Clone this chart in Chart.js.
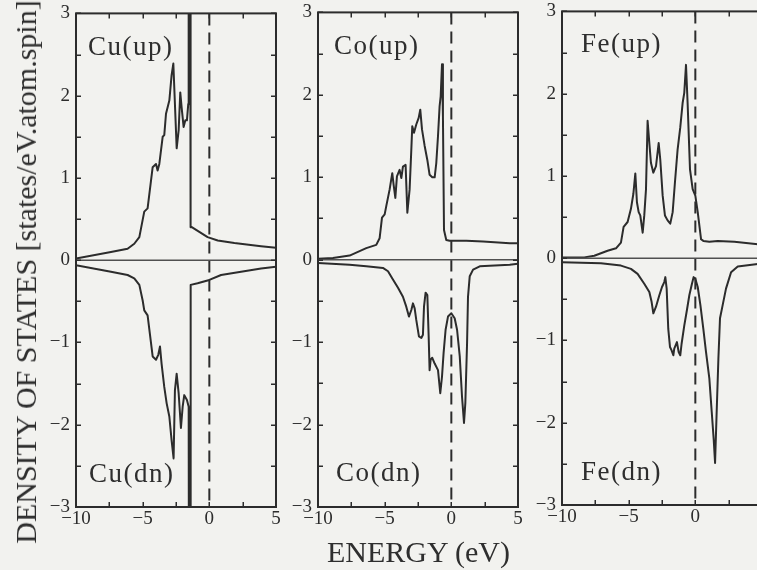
<!DOCTYPE html>
<html><head><meta charset="utf-8">
<script src="https://cdn.jsdelivr.net/npm/chart.js@4/dist/chart.umd.min.js"></script>
<style>
html,body{margin:0;padding:0;}
body{width:757px;height:570px;overflow:hidden;position:relative;background:#f2f2ef;font-family:"Liberation Serif","Times New Roman",serif;color:#2e2e2e;}
.wrap{position:absolute;}
.wrap canvas{display:block;}
.lbl{position:absolute;font-size:27px;line-height:27px;letter-spacing:1.5px;white-space:nowrap;}
#xt{position:absolute;left:327px;top:537px;font-size:30px;line-height:30px;white-space:nowrap;}
#yt{position:absolute;left:26px;top:272px;font-size:30px;line-height:30px;white-space:nowrap;transform:translate(-50%,-50%) rotate(-90deg);}
</style></head><body>
<div class="wrap" id="w0"><canvas id="c0"></canvas></div>
<div class="wrap" id="w1"><canvas id="c1"></canvas></div>
<div class="wrap" id="w2"><canvas id="c2"></canvas></div>
<div class="lbl" style="left:88px;top:33px">Cu(up)</div>
<div class="lbl" style="left:89px;top:460px">Cu(dn)</div>
<div class="lbl" style="left:334px;top:32px">Co(up)</div>
<div class="lbl" style="left:336px;top:459px">Co(dn)</div>
<div class="lbl" style="left:581px;top:30px">Fe(up)</div>
<div class="lbl" style="left:581px;top:458px">Fe(dn)</div>
<div id="xt">ENERGY (eV)</div>
<div id="yt">DENSITY OF STATES [states/eV.atom.spin]</div>
<script>
// ---- axis ticks ----
const energyTicks = [-10, -5, 0, 5];
const energyMarks = [-10, -7.5, -5, -2.5, 0, 2.5, 5];
const dosTicks = [-3, -2, -1, 0, 1, 2, 3];
const dosMarks = [-3, -2.5, -2, -1.5, -1, -0.5, 0, 0.5, 1, 1.5, 2, 2.5, 3];
const ENERGY_MIN = -10, ENERGY_MAX = 5, DOS_MIN = -3, DOS_MAX = 3, FERMI = 0;

// ---- Cu ----
const cuUpE = [-10,-7.38,-6.13,-5.63,-5.25,-5.0,-4.88,-4.63,-4.25,-4.0,-3.88,-3.75,-3.5,-3.38,-3.25,-3.0,-2.83,-2.7,-2.45,-2.3,-2.18,-2.08,-1.93,-1.8,-1.68,-1.58,-1.55,-1.45,-1.43,-1.38,-0.13,0.63,1.88,3.88,5];
const cuUpD = [0.02,0.10,0.14,0.20,0.28,0.49,0.59,0.63,1.13,1.17,1.09,1.17,1.50,1.52,1.78,1.94,2.25,2.39,1.36,1.58,2.04,1.86,1.62,1.70,1.70,1.90,5.0,5.0,0.40,0.41,0.28,0.24,0.21,0.17,0.15];
const cuDnE = [-10,-7.38,-6.13,-5.63,-5.25,-5.0,-4.88,-4.63,-4.25,-4.0,-3.83,-3.7,-3.58,-3.38,-3.2,-3.0,-2.83,-2.68,-2.58,-2.45,-2.3,-2.13,-2.0,-1.88,-1.68,-1.55,-1.52,-1.42,-1.4,-0.88,0,0.88,2.38,3.88,5];
const cuDnD = [-0.06,-0.14,-0.18,-0.22,-0.30,-0.49,-0.61,-0.67,-1.17,-1.21,-1.15,-1.05,-1.26,-1.54,-1.74,-1.90,-2.19,-2.41,-1.58,-1.38,-1.62,-2.04,-1.78,-1.64,-1.70,-1.78,-5.0,-5.0,-0.30,-0.28,-0.24,-0.18,-0.14,-0.10,-0.08];

// ---- Co ----
const coUpE = [-10,-8.88,-7.63,-6.38,-5.63,-5.38,-5.2,-5.0,-4.88,-4.63,-4.43,-4.33,-4.2,-4.08,-3.88,-3.75,-3.63,-3.43,-3.3,-3.13,-3.0,-2.93,-2.8,-2.63,-2.45,-2.33,-2.2,-2.0,-1.8,-1.63,-1.43,-1.25,-1.13,-1.0,-0.88,-0.8,-0.7,-0.63,-0.55,-0.38,-0.13,1.13,2.38,4.38,5];
const coUpD = [0.01,0.02,0.05,0.14,0.18,0.26,0.51,0.55,0.65,0.85,1.05,0.91,0.75,1.01,1.09,0.99,1.13,1.15,0.57,0.85,1.34,1.62,1.54,1.64,1.72,1.82,1.58,1.38,1.21,1.03,1.00,1.00,1.17,1.50,1.86,1.98,2.37,1.74,0.36,0.24,0.23,0.23,0.22,0.20,0.20];
const coDnE = [-10,-7.63,-6.38,-5.13,-4.75,-4.38,-4.0,-3.63,-3.38,-3.18,-3.0,-2.88,-2.75,-2.63,-2.43,-2.25,-2.13,-2.05,-1.93,-1.8,-1.7,-1.63,-1.55,-1.43,-1.25,-1.0,-0.83,-0.7,-0.58,-0.43,-0.25,0,0.25,0.43,0.63,0.8,0.95,1.05,1.18,1.25,1.38,1.63,2.13,4.38,5];
const coDnD = [-0.04,-0.06,-0.08,-0.10,-0.14,-0.24,-0.34,-0.45,-0.57,-0.69,-0.61,-0.53,-0.59,-0.73,-0.93,-0.95,-0.91,-0.57,-0.40,-0.43,-0.93,-1.34,-1.21,-1.19,-1.26,-1.34,-1.62,-1.42,-1.13,-0.85,-0.69,-0.65,-0.71,-0.85,-1.17,-1.66,-1.98,-1.74,-1.01,-0.45,-0.20,-0.12,-0.08,-0.06,-0.05];

// ---- Fe ----
const feUpE = [-10,-8.33,-7.58,-7.08,-6.58,-5.95,-5.58,-5.38,-5.08,-4.83,-4.65,-4.5,-4.38,-4.25,-4.13,-3.95,-3.83,-3.7,-3.58,-3.45,-3.33,-3.15,-2.95,-2.75,-2.63,-2.45,-2.28,-2.08,-1.88,-1.7,-1.53,-1.33,-1.13,-0.95,-0.83,-0.7,-0.58,-0.4,-0.2,0,0.18,0.43,0.6,1.05,1.68,2.93,4.68,5];
const feUpD = [0.01,0.01,0.03,0.06,0.09,0.12,0.19,0.38,0.44,0.60,0.78,1.03,0.68,0.56,0.52,0.31,0.52,0.84,1.67,1.40,1.16,1.04,1.12,1.40,1.20,0.76,0.52,0.46,0.42,0.56,0.92,1.32,1.59,1.89,2.01,2.35,1.89,1.08,0.84,0.76,0.56,0.23,0.21,0.20,0.21,0.20,0.17,0.17];
const feDnE = [-10,-7.08,-5.58,-4.83,-4.33,-3.83,-3.45,-3.28,-3.15,-2.95,-2.7,-2.5,-2.33,-2.25,-2.15,-2.03,-1.9,-1.78,-1.65,-1.58,-1.38,-1.25,-1.13,-1.03,-0.83,-0.63,-0.45,-0.28,-0.13,0,0.18,0.38,0.6,0.8,1.05,1.23,1.38,1.48,1.6,1.73,1.85,2.05,2.3,2.68,3.18,4.68,5];
const feDnD = [-0.05,-0.06,-0.09,-0.13,-0.19,-0.31,-0.41,-0.53,-0.67,-0.59,-0.45,-0.35,-0.29,-0.23,-0.37,-0.86,-1.08,-1.12,-1.18,-1.10,-1.02,-1.14,-1.18,-1.04,-0.82,-0.63,-0.45,-0.33,-0.23,-0.25,-0.35,-0.57,-0.86,-1.14,-1.46,-1.87,-2.21,-2.49,-1.87,-1.22,-0.73,-0.57,-0.37,-0.17,-0.10,-0.07,-0.07];

const INK = '#2c2c2c';
const FONT = {family: "'Liberation Serif', 'Times New Roman', serif", size: 19};
const fmt = v => (v < 0 ? '\u2212' + Math.abs(v) : String(v));
const pts = (xs, ys) => xs.map((x, i) => ({x, y: ys[i]}));

const framePlugin = {
  id: 'frame',
  afterDatasetsDraw(chart) {
    const {ctx, chartArea: a, scales: {x, y}} = chart;
    ctx.save();
    ctx.strokeStyle = INK;
    ctx.lineWidth = 1.5;
    const L = 5;
    ctx.beginPath();
    energyMarks.forEach(v => {
      const px = Math.round(x.getPixelForValue(v)) + 0.25;
      ctx.moveTo(px, a.bottom); ctx.lineTo(px, a.bottom - L);
      ctx.moveTo(px, a.top); ctx.lineTo(px, a.top + L);
    });
    dosMarks.forEach(v => {
      const py = Math.round(y.getPixelForValue(v)) + 0.25;
      ctx.moveTo(a.left, py); ctx.lineTo(a.left + L, py);
      ctx.moveTo(a.right, py); ctx.lineTo(a.right - L, py);
    });
    ctx.stroke();
    ctx.lineWidth = 2;
    ctx.strokeRect(a.left, a.top, a.width, a.height);
    ctx.restore();
  }
};

const PAD_L = 48, PAD_T = 14, PAD_R = 12, PAD_B = 32;

function panel(idx, box, upE, upD, dnE, dnD) {
  const cv = document.getElementById('c' + idx);
  const wrap = document.getElementById('w' + idx);
  const W = PAD_L + box.w + PAD_R, H = PAD_T + box.h + PAD_B;
  cv.width = W; cv.height = H;
  cv.style.width = W + 'px'; cv.style.height = H + 'px';
  wrap.style.left = (box.l - PAD_L) + 'px';
  wrap.style.top = (box.t - PAD_T) + 'px';
  const lineDs = (data, extra) => Object.assign({
    data, borderColor: INK, borderWidth: 2, pointRadius: 0, tension: 0,
    borderJoinStyle: 'round', borderCapStyle: 'butt', fill: false
  }, extra || {});
  new Chart(cv, {
    type: 'line',
    data: {datasets: [
      lineDs([{x: ENERGY_MIN, y: 0}, {x: ENERGY_MAX, y: 0}], {borderColor: '#505050', borderWidth: 1.5}),
      lineDs([{x: FERMI, y: DOS_MAX}, {x: FERMI, y: DOS_MIN}], {borderDash: [12, 7], borderWidth: 2}),
      lineDs(pts(upE, upD)),
      lineDs(pts(dnE, dnD))
    ]},
    options: {
      responsive: false, animation: false, devicePixelRatio: 1,
      layout: {padding: {left: 0, top: PAD_T, right: PAD_R, bottom: 0}},
      plugins: {legend: {display: false}, tooltip: {enabled: false}},
      scales: {
        x: {
          type: 'linear', position: 'bottom', min: ENERGY_MIN, max: ENERGY_MAX,
          afterBuildTicks: s => { s.ticks = energyTicks.map(v => ({value: v})); },
          afterFit: s => { s.height = PAD_B; },
          grid: {display: false, drawTicks: false},
          border: {display: false},
          ticks: {font: FONT, color: INK, padding: 1, autoSkip: false, maxRotation: 0, callback: fmt}
        },
        y: {
          type: 'linear', position: 'left', min: DOS_MIN, max: DOS_MAX,
          afterBuildTicks: s => { s.ticks = dosTicks.map(v => ({value: v})); },
          afterFit: s => { s.width = PAD_L; },
          grid: {display: false, drawTicks: false},
          border: {display: false},
          ticks: {font: FONT, color: INK, padding: 6, autoSkip: false, callback: fmt}
        }
      }
    },
    plugins: [framePlugin]
  });
}

panel(0, {l: 76, t: 10, w: 200, h: 497}, cuUpE, cuUpD, cuDnE, cuDnD);
panel(1, {l: 318, t: 9, w: 200, h: 498}, coUpE, coUpD, coDnE, coDnD);
panel(2, {l: 562, t: 8, w: 200, h: 497}, feUpE, feUpD, feDnE, feDnD);
</script>
</body></html>
